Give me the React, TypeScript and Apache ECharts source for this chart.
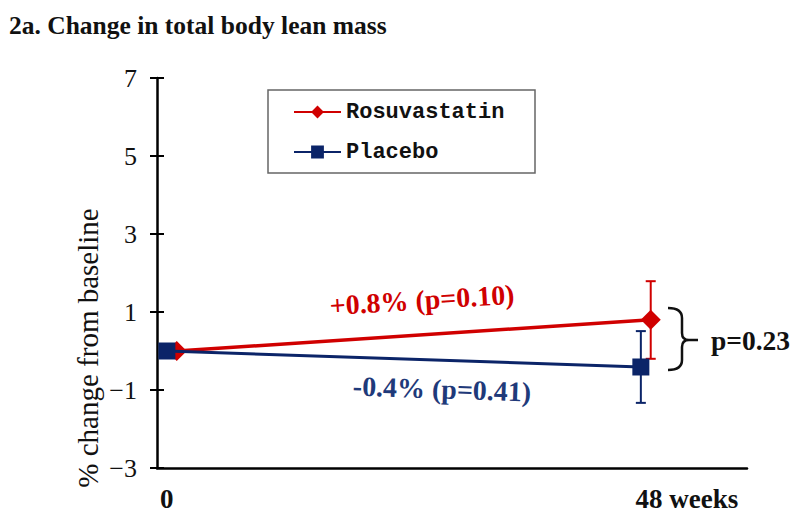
import React, { useEffect, useRef } from "react";
import * as echarts from "echarts";

// ---- data ----
const weeks = [0, 48];
const rosuMean = [0, 0.8];
const rosuLow = [null, -0.2];
const rosuHigh = [null, 1.79];
const placeboMean = [0, -0.41];
const placeboLow = [null, -1.33];
const placeboHigh = [null, 0.51];
const yTicks = [-3, -1, 1, 3, 5, 7];
const xTicks = [0, 48];
const rosuNote = "+0.8% (p=0.10)";
const placeboNote = "-0.4% (p=0.41)";
const betweenNote = "p=0.23";

// horizontal dodge (in weeks) so the two groups do not overlap
const ROSU_DODGE = 1;
const PLACEBO_DODGE = 0;

const RED = "#D00000";
const BLUE = "#0B2468";

echarts.graphic.registerShape(
  "brace",
  echarts.graphic.extendPath(
    "M0,0 Q14,0 14,10 L14,25 Q14,32 21,32 L30,32 M21,32 Q14,32 14,39 L14,52 Q14,62 0,62",
    {}
  )
);

function errorSeries(name: string, xs: number[], lo: any[], hi: any[], dodge: number, color: string) {
  const data: number[][] = [];
  xs.forEach((x, i) => {
    if (lo[i] != null && hi[i] != null) data.push([x + dodge, lo[i], hi[i]]);
  });
  return {
    type: "custom",
    name: name + "-err",
    data,
    z: 1,
    renderItem: (params: any, api: any) => {
      const x = api.value(0);
      const pLo = api.coord([x, api.value(1)]);
      const pHi = api.coord([x, api.value(2)]);
      const cap = 5;
      const st = { stroke: color, lineWidth: 2 };
      return {
        type: "group",
        children: [
          { type: "line", shape: { x1: pLo[0], y1: pLo[1], x2: pHi[0], y2: pHi[1] }, style: st },
          { type: "line", shape: { x1: pLo[0] - cap, y1: pLo[1], x2: pLo[0] + cap, y2: pLo[1] }, style: st },
          { type: "line", shape: { x1: pHi[0] - cap, y1: pHi[1], x2: pHi[0] + cap, y2: pHi[1] }, style: st },
        ],
      };
    },
  };
}

export default function App() {
  const ref = useRef<HTMLDivElement>(null);
  useEffect(() => {
    if (!ref.current) return;
    const chart = echarts.init(ref.current, null, { renderer: "svg" });
    const minus = (v: number) => String(v).replace("-", "\u2212");
    const option: any = {
      animation: false,
      backgroundColor: "#ffffff",
      title: {
        text: "2a. Change in total body lean mass",
        left: 4,
        top: 7,
        textStyle: { fontFamily: "Liberation Serif", fontWeight: "bold", fontSize: 25.5, color: "#111" },
      },
      grid: { left: 157, top: 78, width: 590, height: 390, containLabel: false },
      xAxis: {
        type: "value",
        min: -1,
        max: 58.75,
        axisLine: { show: true, onZero: false, lineStyle: { color: "#000", width: 2.5 } },
        axisTick: { show: false },
        splitLine: { show: false },
        axisLabel: {
          customValues: xTicks,
          margin: 17,
          fontFamily: "Liberation Serif",
          fontWeight: "bold",
          fontSize: 27,
          color: "#111",
          formatter: (v: number) => (v === 0 ? "0" : "{w|" + v + " weeks}"),
          rich: {
            w: {
              fontFamily: "Liberation Serif",
              fontWeight: "bold",
              fontSize: 27,
              color: "#111",
              padding: [0, 0, 0, 92],
            },
          },
        },
      },
      yAxis: [
        {
          type: "value",
          min: -3,
          max: 7,
          axisLine: { show: true, onZero: false, lineStyle: { color: "#000", width: 2.5 } },
          axisTick: { show: true, customValues: yTicks, length: 7, lineStyle: { color: "#000", width: 2 } },
          splitLine: { show: false },
          axisLabel: {
            customValues: yTicks,
            margin: 20,
            fontFamily: "Liberation Serif",
            fontSize: 26,
            color: "#111",
            formatter: minus,
          },
        },
        {
          type: "value",
          min: -3,
          max: 7,
          position: "left",
          axisLine: { show: false, onZero: false },
          axisTick: { show: true, inside: true, customValues: yTicks, length: 7, lineStyle: { color: "#000", width: 2 } },
          splitLine: { show: false },
          axisLabel: { show: false },
        },
      ],
      legend: {
        orient: "vertical",
        left: 268,
        top: 90,
        padding: [10, 24, 9, 25],
        borderColor: "#666",
        borderWidth: 1.5,
        itemGap: 16,
        itemWidth: 47,
        itemHeight: 16,
        textStyle: {
          fontFamily: "Liberation Mono",
          fontWeight: "bold",
          fontSize: 22,
          color: "#111",
          lineHeight: 24,
          width: 165,
        },
        data: ["Rosuvastatin", "Placebo"],
      },
      series: [
        errorSeries("Rosuvastatin", weeks, rosuLow, rosuHigh, ROSU_DODGE, RED),
        errorSeries("Placebo", weeks, placeboLow, placeboHigh, PLACEBO_DODGE, BLUE),
        {
          type: "line",
          name: "Rosuvastatin",
          data: weeks.map((w, i) => [w + ROSU_DODGE, rosuMean[i]]),
          symbol: "diamond",
          symbolSize: 20,
          lineStyle: { color: RED, width: 3.5 },
          itemStyle: { color: RED },
          z: 3,
        },
        {
          type: "line",
          name: "Placebo",
          data: weeks.map((w, i) => [w + PLACEBO_DODGE, placeboMean[i]]),
          symbol: "rect",
          symbolSize: 17,
          lineStyle: { color: BLUE, width: 3 },
          itemStyle: { color: BLUE },
          z: 4,
        },
      ],
      graphic: [
        {
          type: "text",
          x: 88,
          y: 348,
          rotation: Math.PI / 2,
          style: {
            text: "% change from baseline",
            fontFamily: "Liberation Serif",
            fontSize: 29,
            fill: "#111",
            align: "center",
            verticalAlign: "middle",
          },
        },
        {
          type: "text",
          x: 422,
          y: 300,
          rotation: 0.062,
          style: {
            text: rosuNote,
            fontFamily: "Liberation Serif",
            fontWeight: "bold",
            fontSize: 28,
            fill: RED,
            align: "center",
            verticalAlign: "middle",
          },
        },
        {
          type: "text",
          x: 442,
          y: 389,
          rotation: -0.033,
          style: {
            text: placeboNote,
            fontFamily: "Liberation Serif",
            fontWeight: "bold",
            fontSize: 28,
            fill: "#1F3A7A",
            align: "center",
            verticalAlign: "middle",
          },
        },
        {
          type: "brace",
          x: 668,
          y: 308,
          style: { stroke: "#111", lineWidth: 2.5, fill: "none" },
        },
        {
          type: "text",
          x: 711,
          y: 340,
          style: {
            text: betweenNote,
            fontFamily: "Liberation Serif",
            fontWeight: "bold",
            fontSize: 27.5,
            fill: "#111",
            align: "left",
            verticalAlign: "middle",
          },
        },
      ],
    };
    chart.setOption(option);
    return () => chart.dispose();
  }, []);
  return (
    <div
      ref={ref}
      style={{ position: "fixed", left: 0, top: 0, width: 800, height: 514 }}
    />
  );
}
